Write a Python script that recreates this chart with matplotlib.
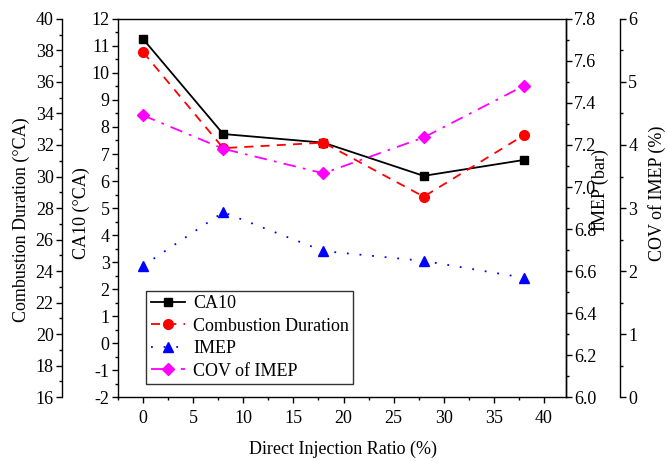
import matplotlib
matplotlib.use('Agg')
import matplotlib.pyplot as plt
from matplotlib.ticker import MultipleLocator, FormatStrFormatter

# 字体设置
plt.rcParams['font.family'] = ['Liberation Serif', 'DejaVu Serif']
plt.rcParams['font.size'] = 13
plt.rcParams['axes.unicode_minus'] = False

# 数据
ratio = [0, 8, 18, 28, 38]
ca10 = [11.26, 7.74, 7.42, 6.19, 6.78]
comb_dur = [37.9, 31.8, 32.15, 28.72, 32.62]
imep = [6.625, 6.88, 6.695, 6.648, 6.568]
cov_imep = [4.47, 3.94, 3.55, 4.12, 4.94]

fig = plt.figure(figsize=(6.67, 4.61), dpi=100)
ax = fig.add_axes([0.1769, 0.1388, 0.6717, 0.82])

ax_cd = ax.twinx()
ax_imep = ax.twinx()
ax_cov = ax.twinx()

l1, = ax.plot(ratio, ca10, color='black', ls='-', lw=1.3, marker='s', ms=6, label='CA10')
l2, = ax_cd.plot(ratio, comb_dur, color='red', ls=(0, (5, 4)), lw=1.3, marker='o', ms=7,
                 label='Combustion Duration')
l3, = ax_imep.plot(ratio, imep, color='blue', ls=(0, (1, 6)), lw=1.3, marker='^', ms=7.5,
                   label='IMEP')
l4, = ax_cov.plot(ratio, cov_imep, color='magenta', ls=(0, (7, 4, 1.5, 4)), lw=1.3, marker='D',
                  ms=6.5, label='COV of IMEP')

# 坐标范围
ax.set_xlim(-2.5, 42.2)
ax.set_ylim(-2, 12)
ax_cd.set_ylim(16, 40)
ax_imep.set_ylim(6.0, 7.8)
ax_cov.set_ylim(0, 6)

ax.xaxis.set_major_locator(MultipleLocator(5))
ax.xaxis.set_minor_locator(MultipleLocator(2.5))
ax.yaxis.set_major_locator(MultipleLocator(1))
ax.yaxis.set_minor_locator(MultipleLocator(0.5))
ax_cd.yaxis.set_major_locator(MultipleLocator(2))
ax_cd.yaxis.set_minor_locator(MultipleLocator(1))
ax_imep.yaxis.set_major_locator(MultipleLocator(0.2))
ax_imep.yaxis.set_minor_locator(MultipleLocator(0.1))
ax_imep.yaxis.set_major_formatter(FormatStrFormatter('%.1f'))
ax_cov.yaxis.set_major_locator(MultipleLocator(1))
ax_cov.yaxis.set_minor_locator(MultipleLocator(0.5))

# 主坐标轴
for s in ax.spines.values():
    s.set_linewidth(1.0)
ax.tick_params(axis='x', which='both', direction='out', top=False, pad=5)
ax.tick_params(axis='y', which='both', direction='out', right=False, pad=2)
ax.tick_params(which='major', length=4, width=1.0)
ax.tick_params(which='minor', length=2.5, width=1.0)

# 燃烧持续期 左外侧
ax_cd.yaxis.set_ticks_position('left')
ax_cd.yaxis.set_label_position('left')
ax_cd.spines['left'].set_position(('axes', -0.125))
for k in ['right', 'top', 'bottom']:
    ax_cd.spines[k].set_visible(False)
ax_cd.spines['left'].set_visible(True)
ax_cd.spines['left'].set_linewidth(1.0)

# IMEP 右侧
for k in ['left', 'top', 'bottom']:
    ax_imep.spines[k].set_visible(False)
ax_imep.spines['right'].set_linewidth(1.0)

# COV 右外侧
ax_cov.spines['right'].set_position(('axes', 1.1205))
for k in ['left', 'top', 'bottom']:
    ax_cov.spines[k].set_visible(False)
ax_cov.spines['right'].set_linewidth(1.0)

for a in [ax_cd, ax_imep, ax_cov]:
    a.tick_params(axis='y', which='both', direction='out', pad=2)
    a.tick_params(which='major', length=4, width=1.0)
    a.tick_params(which='minor', length=2.5, width=1.0)

# 坐标轴标签
ax.set_xlabel('Direct Injection Ratio (%)')
ax.xaxis.set_label_coords(0.502, -0.115)
ax.set_ylabel('CA10 (°CA)')
ax.yaxis.set_label_coords(-0.0625, 0.487)
ax_cd.set_ylabel('Combustion Duration (°CA)')
ax_cd.yaxis.set_label_coords(-0.196, 0.468)
ax_imep.set_ylabel('IMEP (bar)')
ax_imep.yaxis.set_label_coords(1.058, 0.548)
ax_cov.set_ylabel('COV of IMEP (%)')
ax_cov.yaxis.set_label_coords(1.183, 0.54)

leg = ax_cov.legend(handles=[l1, l2, l3, l4], loc='lower left', bbox_to_anchor=(0.0625, 0.034),
                    borderaxespad=0, fancybox=False, edgecolor='#333333', framealpha=1,
                    handlelength=1.9, labelspacing=0.3, handletextpad=0.45, borderpad=0.25)
leg.get_frame().set_linewidth(1.0)

fig.savefig('out.png', dpi=100)
